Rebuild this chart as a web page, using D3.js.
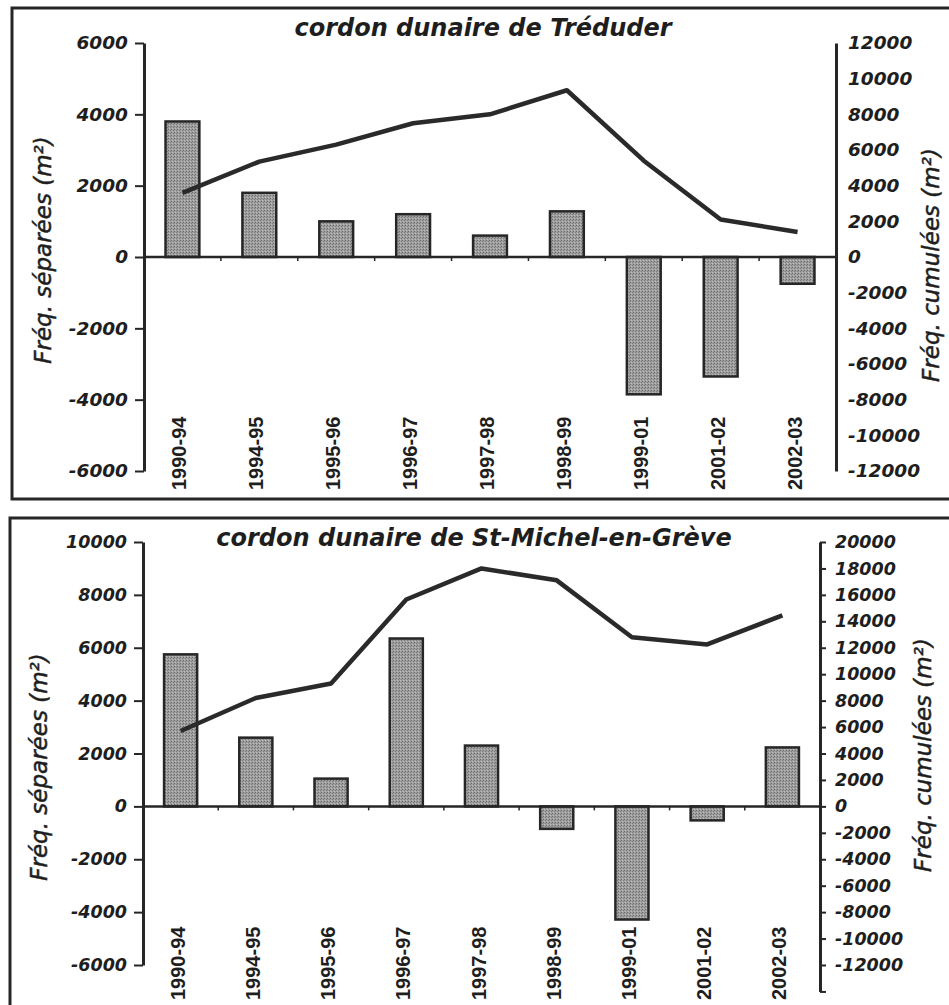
<!DOCTYPE html>
<html>
<head>
<meta charset="utf-8">
<script src="https://cdn.jsdelivr.net/npm/d3@7"></script>
<style>
  body { margin: 0; background: #fff; }
  svg { display: block; }
  .tick-lbl { font-family: "DejaVu Sans", sans-serif; font-weight: bold; font-style: italic; fill: #1e1e1e; }
  .cat-lbl { font-family: "Liberation Sans", Arial, sans-serif; font-weight: bold; fill: #1e1e1e; }
  .ttl { font-family: "DejaVu Sans", sans-serif; font-weight: bold; font-style: italic; fill: #1e1e1e; }
  .ax-ttl { font-family: "DejaVu Sans", sans-serif; font-style: italic; fill: #1e1e1e; stroke: #1e1e1e; stroke-width: 0.5px; }
</style>
</head>
<body>
<div id="chart"></div>
<script>
// periods on the x axis
const periods = ["1990-94", "1994-95", "1995-96", "1996-97", "1997-98", "1998-99", "1999-01", "2001-02", "2002-03"];

// Tréduder : separate (bars, left axis) and cumulated (line, right axis)
const treduderSep = [3800, 1800, 1000, 1200, 600, 1280, -3850, -3350, -750];
const treduderCum = [3600, 5350, 6300, 7500, 8000, 9350, 5400, 2100, 1400];

// St-Michel-en-Grève
const stMichelSep = [5750, 2600, 1050, 6350, 2300, -850, -4280, -530, 2230];
const stMichelCum = [5700, 8200, 9300, 15650, 18000, 17100, 12800, 12250, 14450];

// tick values
const treduderLeftTicks = [-6000, -4000, -2000, 0, 2000, 4000, 6000];
const treduderRightTicks = [-12000, -10000, -8000, -6000, -4000, -2000, 0, 2000, 4000, 6000, 8000, 10000, 12000];
const stMichelLeftTicks = [-6000, -4000, -2000, 0, 2000, 4000, 6000, 8000, 10000];
const stMichelRightTicks = [-14000, -12000, -10000, -8000, -6000, -4000, -2000, 0, 2000, 4000, 6000, 8000, 10000, 12000, 14000, 16000, 18000, 20000];

const titles = ["cordon dunaire de Tréduder", "cordon dunaire de St-Michel-en-Grève"];
const leftTitle = "Fréq. séparées (m²)";
const rightTitle = "Fréq. cumulées (m²)";

const W = 949, H = 1005;
const ink = "#262626";

// plain hyphen for negatives, no thousands separator
const fmt = d => String(d);

const svg = d3.select("#chart").append("svg")
    .attr("width", W)
    .attr("height", H);

// stippled grey used by the bars
let defs = svg.append("defs");
let pat = defs.append("pattern")
    .attr("id", "stipple")
    .attr("width", 3).attr("height", 3)
    .attr("patternUnits", "userSpaceOnUse");
pat.append("rect").attr("width", 3).attr("height", 3).attr("fill", "#9f9f9f");
pat.append("rect").attr("x", 0).attr("y", 0).attr("width", 1).attr("height", 1).attr("fill", "#6a6a6a");
pat.append("rect").attr("x", 2).attr("y", 1).attr("width", 1).attr("height", 1).attr("fill", "#7c7c7c");
pat.append("rect").attr("x", 1).attr("y", 2).attr("width", 1).attr("height", 1).attr("fill", "#bdbdbd");

function drawPanel(p) {
    // frame around the panel
    svg.append("rect")
        .attr("x", p.frame[0]).attr("y", p.frame[1])
        .attr("width", p.frame[2]).attr("height", p.frame[3])
        .attr("fill", "none")
        .attr("stroke", ink)
        .attr("stroke-width", 3);

    let x = d3.scaleBand()
        .domain(periods)
        .range([p.left, p.right])
        .paddingInner(0.56)
        .paddingOuter(0.28);

    let yL = d3.scaleLinear()
        .domain([p.leftTicks[0], p.leftTicks[p.leftTicks.length - 1]])
        .range([p.bottom, p.top]);

    // right axis is twice the left one
    let yR = d3.scaleLinear()
        .domain([p.rightTicks[0], p.rightTicks[p.rightTicks.length - 1]])
        .range([yL(p.rightTicks[0] / 2), yL(p.rightTicks[p.rightTicks.length - 1] / 2)]);

    let g = svg.append("g");

    // title
    g.append("text")
        .attr("class", "ttl")
        .attr("x", p.titleX).attr("y", p.titleY)
        .attr("text-anchor", "middle")
        .style("font-size", "24px")
        .text(p.title);

    // bars
    g.selectAll(".bar")
        .data(p.sep)
        .enter().append("rect")
        .attr("class", "bar")
        .attr("x", (d, i) => x(periods[i]))
        .attr("width", x.bandwidth())
        .attr("y", d => yL(Math.max(0, d)))
        .attr("height", d => Math.abs(yL(d) - yL(0)))
        .attr("fill", "url(#stipple)")
        .attr("stroke", ink)
        .attr("stroke-width", 2.5);

    // zero line with small separators
    g.append("line")
        .attr("x1", p.left).attr("x2", p.right)
        .attr("y1", yL(0)).attr("y2", yL(0))
        .attr("stroke", ink).attr("stroke-width", 2.5);

    let step = x.step();
    g.selectAll(".sep")
        .data(periods.slice(0, -1))
        .enter().append("line")
        .attr("x1", d => x(d) + x.bandwidth() + (step - x.bandwidth()) / 2)
        .attr("x2", d => x(d) + x.bandwidth() + (step - x.bandwidth()) / 2)
        .attr("y1", yL(0)).attr("y2", yL(0) + 4)
        .attr("stroke", ink).attr("stroke-width", 1.5);

    // cumulated line
    let line = d3.line()
        .x((d, i) => x(periods[i]) + x.bandwidth() / 2)
        .y(d => yR(d));

    g.append("path")
        .datum(p.cum)
        .attr("d", line)
        .attr("fill", "none")
        .attr("stroke", "#2a2a2a")
        .attr("stroke-width", 4.5)
        .attr("stroke-linejoin", "round");

    // left axis
    let leftAxis = g.append("g")
        .attr("transform", `translate(${p.left},0)`)
        .call(d3.axisLeft(yL).tickValues(p.leftTicks).tickSize(9).tickPadding(7)
            .tickSizeOuter(0).tickFormat(fmt));
    leftAxis.select(".domain").attr("stroke", ink).attr("stroke-width", 3);
    leftAxis.selectAll(".tick line").attr("stroke", ink).attr("stroke-width", 2);
    leftAxis.selectAll(".tick text")
        .attr("class", "tick-lbl")
        .style("font-size", p.tickFont + "px");
    leftAxis.attr("font-family", null).attr("font-size", null);

    // right axis
    let rightAxis = g.append("g")
        .attr("transform", `translate(${p.right},0)`)
        .call(d3.axisRight(yR).tickValues(p.rightTicks).tickSize(p.rightTickSize)
            .tickPadding(p.rightPad).tickSizeOuter(0)
            .tickFormat(d => p.hideRight.includes(d) ? "" : fmt(d)));
    rightAxis.select(".domain").attr("stroke", ink).attr("stroke-width", 3);
    rightAxis.selectAll(".tick line").attr("stroke", ink).attr("stroke-width", 2);
    rightAxis.selectAll(".tick text")
        .attr("class", "tick-lbl")
        .style("font-size", p.tickFont + "px");
    rightAxis.attr("font-family", null).attr("font-size", null);

    // category labels, rotated
    g.selectAll(".cat")
        .data(periods)
        .enter().append("text")
        .attr("class", "cat-lbl")
        .attr("transform", d => `translate(${x(d) + x.bandwidth() / 2 - 3},${p.catY}) rotate(-90)`)
        .attr("dy", "0.35em")
        .style("font-size", "20px")
        .text(d => d);

    // axis titles
    g.append("text")
        .attr("class", "ax-ttl")
        .attr("transform", `translate(${p.lTitleX},${p.lTitleY}) rotate(-90)`)
        .attr("text-anchor", "middle")
        .style("font-size", "23px")
        .text(leftTitle);

    g.append("text")
        .attr("class", "ax-ttl")
        .attr("transform", `translate(${p.rTitleX},${p.rTitleY}) rotate(-90)`)
        .attr("text-anchor", "middle")
        .style("font-size", "23px")
        .text(rightTitle);
}

drawPanel({
    frame: [12, 8, 945, 491],
    left: 144, right: 836, top: 43, bottom: 471,
    sep: treduderSep, cum: treduderCum,
    leftTicks: treduderLeftTicks, rightTicks: treduderRightTicks, hideRight: [],
    rightTickSize: 0, rightPad: 12, tickFont: 18.5,
    title: titles[0], titleX: 483, titleY: 36,
    catY: 490,
    lTitleX: 51, lTitleY: 250, rTitleX: 939, rTitleY: 265
});

drawPanel({
    frame: [10, 518, 950, 500],
    left: 143, right: 820, top: 542, bottom: 965,
    sep: stMichelSep, cum: stMichelCum,
    leftTicks: stMichelLeftTicks, rightTicks: stMichelRightTicks, hideRight: [-14000],
    rightTickSize: 6, rightPad: 9, tickFont: 17.5,
    title: titles[1], titleX: 474, titleY: 546,
    catY: 1000,
    lTitleX: 47, lTitleY: 767, rTitleX: 931, rTitleY: 755
});
</script>
</body>
</html>
